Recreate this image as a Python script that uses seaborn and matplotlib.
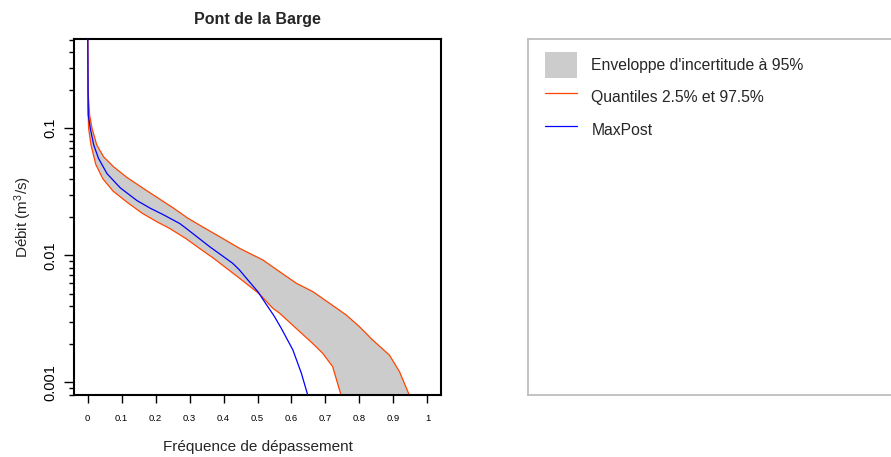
import numpy as np
import pandas as pd
import matplotlib
matplotlib.use('Agg')
import matplotlib.pyplot as plt
import seaborn as sns
from matplotlib.ticker import FixedLocator, LogLocator, NullFormatter
from matplotlib.patches import Patch
from matplotlib.lines import Line2D

# Courbe des débits classés - Pont de la Barge
freq_up = [0.0, 0.001, 0.006, 0.013, 0.027, 0.047, 0.076, 0.116, 0.165, 0.205, 0.251,
           0.295, 0.339, 0.379, 0.447, 0.516, 0.565, 0.614, 0.663, 0.712, 0.761, 0.800,
           0.839, 0.888, 0.918, 0.947, 0.955]
q_up = [0.9, 0.2, 0.127, 0.100, 0.0739, 0.0597, 0.0499, 0.0410, 0.0335, 0.0285, 0.0237,
        0.0196, 0.0167, 0.0145, 0.01135, 0.00918, 0.00743, 0.00603, 0.00517, 0.00419,
        0.00339, 0.00274, 0.00215, 0.00164, 0.00121, 0.00079, 0.0005]

freq_low = [0.0, 0.001, 0.003, 0.010, 0.024, 0.045, 0.075, 0.116, 0.160, 0.205, 0.241,
            0.290, 0.330, 0.369, 0.447, 0.506, 0.545, 0.565, 0.619, 0.660, 0.692, 0.721,
            0.746, 0.752]
q_low = [0.9, 0.15, 0.100, 0.0739, 0.0520, 0.0400, 0.0320, 0.0262, 0.0215, 0.0183, 0.0163,
         0.0135, 0.0113, 0.00955, 0.0066, 0.00495, 0.00383, 0.0035, 0.00258, 0.00205,
         0.00169, 0.00133, 0.00079, 0.0005]

freq_mp = [0.0, 0.002, 0.008, 0.018, 0.032, 0.057, 0.096, 0.145, 0.184, 0.221, 0.271,
           0.290, 0.359, 0.427, 0.447, 0.476, 0.501, 0.526, 0.550, 0.570, 0.604, 0.629,
           0.648, 0.652]
q_mp = [0.9, 0.127, 0.100, 0.0739, 0.0581, 0.0440, 0.0340, 0.0270, 0.0235, 0.0210, 0.0178,
        0.0163, 0.0117, 0.00865, 0.00766, 0.00619, 0.00517, 0.00410, 0.00329, 0.00266,
        0.0018, 0.00118, 0.00079, 0.0005]

xtick_vals = [0, 0.1, 0.2, 0.3, 0.4, 0.5, 0.6, 0.7, 0.8, 0.9, 1]
xtick_labels = ['0', '0.1', '0.2', '0.3', '0.4', '0.5', '0.6', '0.7', '0.8', '0.9', '1']
ytick_vals = [0.001, 0.01, 0.1]
ytick_labels = ['0.001', '0.01', '0.1']

legend_labels = ["Enveloppe d'incertitude à 95%", 'Quantiles 2.5% et 97.5%', 'MaxPost']

c_fill = '#cccccc'
c_q = '#ff4500'
c_mp = '#0000ff'

sns.set_style('ticks')
plt.rcParams['font.family'] = ['Liberation Sans', 'DejaVu Sans']
plt.rcParams['mathtext.fontset'] = 'custom'
plt.rcParams['mathtext.rm'] = 'Liberation Sans'
plt.rcParams['mathtext.it'] = 'Liberation Sans:italic'

fig = plt.figure(figsize=(8.91, 4.57), dpi=100)
ax = fig.add_axes([74 / 891, 1 - 395 / 457, 367 / 891, 356 / 457])
ax.set_yscale('log')

# enveloppe
ax.fill(np.r_[freq_low, freq_up[::-1]], np.r_[q_low, q_up[::-1]],
        color=c_fill, lw=0, zorder=1)

up = pd.DataFrame({'freq': freq_up, 'q': q_up})
low = pd.DataFrame({'freq': freq_low, 'q': q_low})
mp = pd.DataFrame({'freq': freq_mp, 'q': q_mp})
sns.lineplot(data=up, x='freq', y='q', ax=ax, color=c_q, lw=0.9, sort=False, estimator=None, zorder=2)
sns.lineplot(data=low, x='freq', y='q', ax=ax, color=c_q, lw=0.9, sort=False, estimator=None, zorder=2)
sns.lineplot(data=mp, x='freq', y='q', ax=ax, color=c_mp, lw=0.9, sort=False, estimator=None, zorder=3)

ax.set_xlim(-0.04, 1.04)
ax.set_ylim(7.94e-4, 0.505)

ax.set_xticks(xtick_vals)
ax.set_xticklabels(xtick_labels)
ax.yaxis.set_major_locator(FixedLocator(ytick_vals))
ax.set_yticklabels(ytick_labels)
ax.yaxis.set_minor_locator(LogLocator(base=10, subs=np.arange(2, 10)))
ax.yaxis.set_minor_formatter(NullFormatter())

ax.tick_params(axis='x', which='major', length=6, width=1, direction='out',
               labelsize=6.8, pad=8, colors='black')
ax.tick_params(axis='y', which='major', length=7, width=1, direction='out',
               labelsize=10.5, pad=5, labelrotation=90, colors='black')
ax.tick_params(axis='y', which='minor', length=3.5, width=1, direction='out', colors='black')
for lab in ax.get_yticklabels():
    lab.set_va('center')

for s in ax.spines.values():
    s.set_linewidth(1.5)
    s.set_color('black')

ax.set_title('Pont de la Barge', fontsize=11.5, fontweight='bold', pad=11)
ax.set_xlabel('Fréquence de dépassement', fontsize=11)
ax.set_ylabel('Débit (m$^3$/s)', fontsize=11)
ax.xaxis.set_label_coords(0.5, -0.125)
ax.yaxis.set_label_coords(-0.11, 0.5)

# légende dans un cadre séparé
lax = fig.add_axes([528 / 891, 1 - 395 / 457, 1 - 528 / 891 + 0.01, 356 / 457])
lax.set_xticks([])
lax.set_yticks([])
for s in lax.spines.values():
    s.set_color('#bebebe')
    s.set_linewidth(1.3)
handles = [Patch(facecolor=c_fill, edgecolor='none'),
           Line2D([], [], color=c_q, lw=0.9),
           Line2D([], [], color=c_mp, lw=0.9)]
lax.legend(handles, legend_labels, loc='upper left', bbox_to_anchor=(17 / 368, 1 - 13 / 356),
           frameon=False, fontsize=11.3, handlelength=2.05, handleheight=2.15,
           handletextpad=0.9, labelspacing=0.42, borderpad=0, borderaxespad=0)

fig.savefig('out.png', dpi=100)
